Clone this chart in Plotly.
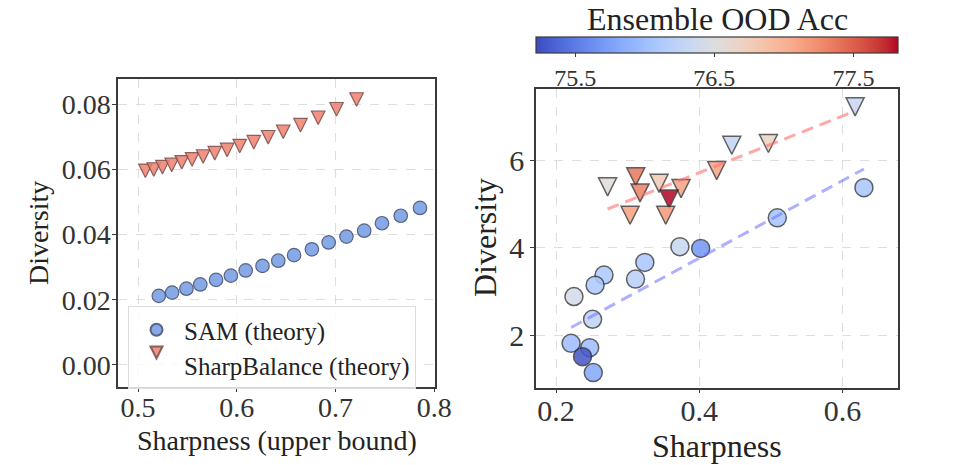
import numpy as np
import plotly.graph_objects as go

# ---------------- Left panel: theory curves ----------------
sam_theory_x = [0.521, 0.5345, 0.549, 0.563, 0.579, 0.594, 0.609, 0.626, 0.642, 0.658,
                0.676, 0.693, 0.711, 0.729, 0.747, 0.766, 0.7855]
sam_theory_y = [0.0212, 0.0222, 0.0234, 0.0247, 0.0261, 0.0274, 0.0290, 0.0304, 0.0320, 0.0337,
                0.0355, 0.0376, 0.0394, 0.0412, 0.0435, 0.0458, 0.0482]
sb_theory_x = [0.5074, 0.5159, 0.5247, 0.5341, 0.5443, 0.5547, 0.5659, 0.5777, 0.5902, 0.603,
               0.6172, 0.6318, 0.647, 0.6645, 0.6824, 0.701, 0.7213]
sb_theory_y = [0.0596, 0.0600, 0.0607, 0.0614, 0.0622, 0.0631, 0.0640, 0.0650, 0.0660, 0.0672,
               0.0684, 0.0699, 0.0716, 0.0736, 0.0759, 0.0785, 0.0815]

# ---------------- Right panel: experiments ----------------
sam_x = [0.630, 0.509, 0.402, 0.373, 0.324, 0.311, 0.267, 0.2545, 0.225, 0.251, 0.221, 0.247, 0.237, 0.252]
sam_y = [5.37, 4.68, 3.98, 4.02, 3.66, 3.28, 3.37, 3.14, 2.88, 2.36, 1.81, 1.71, 1.505, 1.14]
sam_acc = [76.08, 76.05, 75.68, 76.32, 76.08, 76.2, 76.1, 76.1, 76.42, 76.25, 75.98, 75.98, 75.27, 75.8]

sb_x = [0.6177, 0.4966, 0.4454, 0.4244, 0.3746, 0.3439, 0.3579, 0.3532, 0.3113, 0.3173, 0.3034, 0.272]
sb_y = [7.22, 6.38, 6.34, 5.76, 5.35, 5.47, 5.11, 4.74, 5.62, 5.25, 4.74, 5.39]
sb_acc = [76.32, 76.68, 76.28, 77.1, 77.12, 76.78, 77.82, 77.18, 77.38, 77.32, 77.12, 76.55]

acc_range = [75.22, 77.82]
cbar_ticks = [75.5, 76.5, 77.5]

left_xticks = [0.5, 0.6, 0.7, 0.8]
left_yticks = [0.00, 0.02, 0.04, 0.06, 0.08]
right_xticks = [0.2, 0.4, 0.6]
right_yticks = [2, 4, 6]

coolwarm = [
    (59, 76, 192), (68, 90, 204), (77, 104, 215), (87, 117, 225), (98, 130, 234),
    (108, 142, 241), (119, 154, 247), (130, 165, 251), (141, 176, 254), (152, 185, 255),
    (163, 194, 255), (174, 201, 253), (184, 208, 249), (194, 213, 244), (204, 217, 238),
    (213, 219, 230), (221, 221, 221), (229, 216, 209), (236, 211, 197), (241, 204, 185),
    (245, 196, 173), (247, 187, 160), (247, 177, 148), (247, 166, 135), (244, 154, 123),
    (241, 141, 111), (236, 127, 99), (229, 112, 88), (222, 96, 77), (213, 80, 66),
    (203, 62, 56), (192, 40, 47), (180, 4, 38)]
cscale = [[i / (len(coolwarm) - 1), "rgb(%d,%d,%d)" % c] for i, c in enumerate(coolwarm)]

FONT = "Liberation Serif, Times New Roman, serif"
AX = "#3a3a3a"

fig = go.Figure()

# left panel
fig.add_trace(go.Scatter(
    x=sam_theory_x, y=sam_theory_y, mode="markers", name="SAM (theory)",
    marker=dict(symbol="circle", size=13.5, color="rgba(105,148,225,0.8)",
                line=dict(color="rgba(70,80,110,0.85)", width=1.2)),
    xaxis="x", yaxis="y"))
fig.add_trace(go.Scatter(
    x=sb_theory_x, y=sb_theory_y, mode="markers", name="SharpBalance (theory)",
    marker=dict(symbol="arrow-down", size=13.5, standoff=6.75, color="rgba(238,128,112,0.85)",
                line=dict(color="rgba(120,75,70,0.85)", width=1.2)),
    xaxis="x", yaxis="y"))

# right panel scatter
fig.add_trace(go.Scatter(
    x=sam_x, y=sam_y, mode="markers", showlegend=False,
    marker=dict(symbol="circle", size=18, color=sam_acc, colorscale=cscale,
                cmin=acc_range[0], cmax=acc_range[1], opacity=0.85,
                line=dict(color="rgba(40,40,40,0.85)", width=1.5),
                colorbar=dict(
                    orientation="h", x=0.7447, xanchor="center", len=0.3762, lenmode="fraction",
                    y=1 - 37 / 465, yanchor="top", thickness=15.5, thicknessmode="pixels",
                    xpad=0, ypad=0, outlinecolor=AX, outlinewidth=1.2,
                    tickvals=cbar_ticks, ticktext=["%.1f" % t for t in cbar_ticks],
                    ticks="outside", ticklen=4, tickcolor=AX,
                    tickfont=dict(family=FONT, size=24, color="#333"))),
    xaxis="x2", yaxis="y2"))
fig.add_trace(go.Scatter(
    x=sb_x, y=sb_y, mode="markers", showlegend=False,
    marker=dict(symbol="arrow-down", size=18, standoff=9, color=sb_acc, colorscale=cscale,
                cmin=acc_range[0], cmax=acc_range[1], opacity=0.85,
                line=dict(color="rgba(40,40,40,0.85)", width=1.5)),
    xaxis="x2", yaxis="y2"))

# trend lines (least-squares fit)
for xs, ys, col in [(sb_x, sb_y, "rgba(255,110,110,0.6)"), (sam_x, sam_y, "rgba(110,110,255,0.55)")]:
    k, b = np.polyfit(xs, ys, 1)
    lx = np.array([min(xs), max(xs)])
    fig.add_trace(go.Scatter(x=lx, y=k * lx + b, mode="lines", showlegend=False,
                             line=dict(color=col, width=3, dash="12px,7px"),
                             xaxis="x2", yaxis="y2"))

axis_common = dict(showline=True, mirror=True, linecolor=AX, linewidth=1.5,
                   ticks="outside", ticklen=4, tickcolor=AX, showgrid=True,
                   gridcolor="#dedede", griddash="dash", gridwidth=1, zeroline=False)

fig.update_layout(
    width=963, height=465, margin=dict(l=0, r=0, t=0, b=0, autoexpand=False),
    paper_bgcolor="white", plot_bgcolor="white",
    font=dict(family=FONT, color="#333"),
    xaxis=dict(domain=[118 / 963, 435 / 963], range=[0.4797, 0.8007], tickvals=left_xticks,
               ticktext=["%.1f" % v for v in left_xticks], tickfont=dict(size=28),
               ticklabelstandoff=-9, anchor="y", **axis_common),
    yaxis=dict(domain=[1 - 386.7 / 465, 1 - 79.3 / 465], range=[-0.0067, 0.0877], tickvals=left_yticks,
               ticktext=["%.2f" % v for v in left_yticks], tickfont=dict(size=28),
               ticklabelstandoff=-4, anchor="x", **axis_common),
    xaxis2=dict(domain=[536 / 963, 898.3 / 963], range=[0.172, 0.678], tickvals=right_xticks,
                ticktext=["%.1f" % v for v in right_xticks], tickfont=dict(size=30),
                ticklabelstandoff=-8, anchor="y2", **axis_common),
    yaxis2=dict(domain=[1 - 387.7 / 465, 1 - 89.3 / 465], range=[0.795, 7.62], tickvals=right_yticks,
                ticktext=[str(v) for v in right_yticks], tickfont=dict(size=30),
                anchor="x2", **axis_common),
    legend=dict(x=128 / 963, y=1 - 306 / 465, xanchor="left", yanchor="top",
                bgcolor="rgba(255,255,255,0.8)", bordercolor="#dcdcdc", borderwidth=1,
                font=dict(family=FONT, size=25, color="#222"), itemwidth=45,
                itemsizing="constant"),
    annotations=[
        dict(text="Sharpness (upper bound)", x=(118 + 435) / 2 / 963, y=1 - 440 / 465,
             xref="paper", yref="paper", showarrow=False, font=dict(size=28, color="#222"),
             xanchor="center", yanchor="middle"),
        dict(text="Diversity", x=38 / 963, y=1 - 233 / 465, textangle=-90,
             xref="paper", yref="paper", showarrow=False, font=dict(size=28, color="#222"),
             xanchor="center", yanchor="middle"),
        dict(text="Sharpness", x=(536 + 898.3) / 2 / 963, y=1 - 446 / 465,
             xref="paper", yref="paper", showarrow=False, font=dict(size=32, color="#222"),
             xanchor="center", yanchor="middle"),
        dict(text="Diversity", x=485 / 963, y=1 - 238 / 465, textangle=-90,
             xref="paper", yref="paper", showarrow=False, font=dict(size=32, color="#222"),
             xanchor="center", yanchor="middle"),
        dict(text="Ensemble OOD Acc", x=(536 + 898.3) / 2 / 963, y=1 - 19 / 465,
             xref="paper", yref="paper", showarrow=False, font=dict(size=32, color="#222"),
             xanchor="center", yanchor="middle"),
    ],
)

fig.write_html("out.html", config={"displayModeBar": False},
               post_script="document.body.style.margin='0';")
